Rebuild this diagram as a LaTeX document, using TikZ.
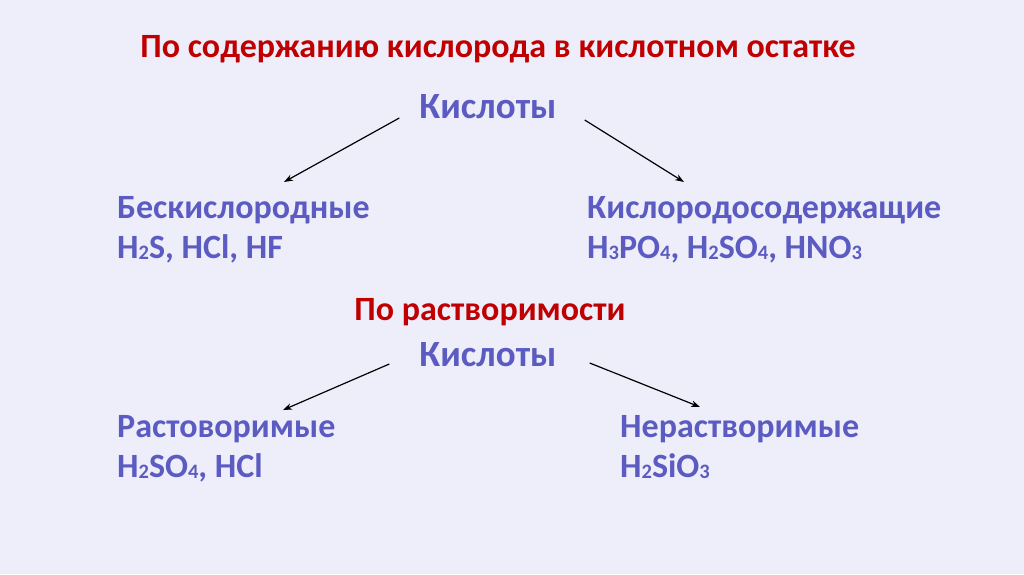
\documentclass[tikz,border=0pt]{standalone}
\usepackage{fontspec}
\setmainfont{Carlito}
\usetikzlibrary{arrows.meta}
\definecolor{bg}{HTML}{EEEEFB}
\definecolor{txt}{HTML}{5B5BC2}
\definecolor{ttl}{HTML}{C00000}
\newcommand{\ssb}[1]{\raisebox{-0.12ex}{\fontsize{20.5}{20.5}\selectfont #1}}
\tikzset{
  title/.style={font=\bfseries\fontsize{34}{36}\selectfont, text=ttl, inner sep=0pt},
  head/.style={font=\bfseries\fontsize{37}{40}\selectfont, text=txt, inner sep=0pt},
  body/.style={font=\bfseries\fontsize{34}{40}\selectfont, text=txt, inner sep=0pt, anchor=base west},
  arr/.style={-{Stealth[length=9pt,width=6.5pt]}, line width=1.2pt, black}
}
\begin{document}
\begin{tikzpicture}[x=1pt,y=1pt]
\fill[bg] (0,0) rectangle (1024,-574);
\useasboundingbox (0,0) rectangle (1024,-574);
\node[title] (t1) at (498,-49) {По содержанию кислорода в кислотном остатке};
\node[head] (k1) at (488,-107) {Кислоты};
\node[body] (b1) at (117,-218) {Бескислородные};
\node[body] (b1f) at (117,-258) {H\ssb{2}S, HCl, HF};
\node[body] (b2) at (587,-218) {Кислородосодержащие};
\node[body] (b2f) at (587,-258) {H\ssb{3}PO\ssb{4}, H\ssb{2}SO\ssb{4}, HNO\ssb{3}};
\node[title] (t2) at (490,-312) {По растворимости};
\node[head] (k2) at (488,-355) {Кислоты};
\node[body] (b3) at (117,-437) {Растоворимые};
\node[body] (b3f) at (117,-477) {H\ssb{2}SO\ssb{4}, HCl};
\node[body] (b4) at (620,-437) {Нерастворимые};
\node[body] (b4f) at (620,-477) {H\ssb{2}SiO\ssb{3}};
\draw[arr] ([xshift=-20pt,yshift=-11pt]k1.west) -- ([xshift=167pt,yshift=36pt]b1.base west);
\draw[arr] ([xshift=28pt,yshift=-13pt]k1.east) -- ([xshift=97pt,yshift=36pt]b2.base west);
\draw[arr] ([xshift=-30pt,yshift=-9pt]k2.west) -- ([xshift=166pt,yshift=27pt]b3.base west);
\draw[arr] ([xshift=33pt,yshift=-8pt]k2.east) -- ([xshift=80pt,yshift=30pt]b4.base west);
\end{tikzpicture}
\end{document}
